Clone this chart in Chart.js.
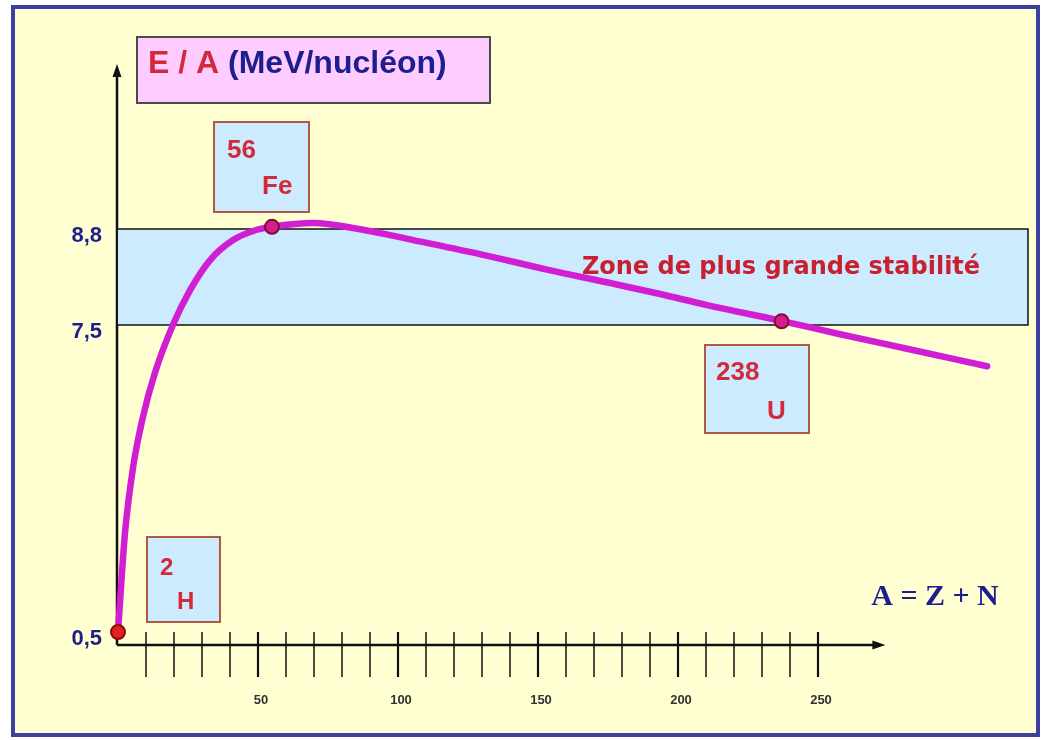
<!DOCTYPE html>
<html>
<head>
<meta charset="utf-8">
<title>E / A (MeV/nucléon)</title>
<script src="https://cdn.jsdelivr.net/npm/chart.js@4/dist/chart.umd.min.js"></script>
<style>
  html, body { margin: 0; padding: 0; background: #fff; }
  canvas { display: block; }
</style>
</head>
<body>
<canvas id="bindingChart" width="1046" height="740"></canvas>
<script>
// Binding energy per nucleon curve
const CURVE_A = [0, 2.5, 5.4, 8.9, 13.2, 19.6, 25.7, 32.9, 41.1, 49.6, 55, 69.6, 87.5, 105.4, 129.3, 153.2, 176.8, 193.6, 210.4, 236.4, 257.9, 281.8, 310.4];
const CURVE_E = [0.5, 2.76, 4.26, 5.40, 6.41, 7.5, 7.97, 8.38, 8.65, 8.79, 8.83, 8.88, 8.79, 8.65, 8.46, 8.25, 8.06, 7.92, 7.77, 7.56, 7.29, 6.96, 6.56];

// Marked nuclides
const NUC_A = [0, 55, 237];
const NUC_E = [0.5, 8.83, 7.55];
const NUC_MASS = ['2', '56', '238'];
const NUC_SYMBOL = ['H', 'Fe', 'U'];

// Stability band
const BAND_A = [0, 325];
const BAND_E = [7.5, 8.8];

// Axis ticks
const Y_TICKS = [0.5, 7.5, 8.8];
const X_LABELED = [50, 100, 150, 200, 250];

// The y axis of the drawing is not linear: piecewise map value -> fraction of height
const Y_BREAKS = [[0, 0], [0.5, 0.0225], [7.5, 0.5536], [8.8, 0.7197], [11, 1]];

const COLORS = {
  paper: '#FFFFD2',
  frame: '#3F3FA3',
  curve: '#D21ED2',
  band: '#CCEBFF',
  boxFill: '#CDEBFF',
  boxLine: '#B0574A',
  red: '#D22A3A',
  navy: '#1E1E8C',
};

function interp(v, pairs, from, to) {
  for (let i = 1; i < pairs.length; i++) {
    const a = pairs[i - 1], b = pairs[i];
    if (v <= b[from] || i === pairs.length - 1) {
      return a[to] + (v - a[from]) * (b[to] - a[to]) / (b[from] - a[from]);
    }
  }
  return 0;
}

class BrokenScale extends Chart.LinearScale {
  getPixelForValue(value) {
    return this.getPixelForDecimal(interp(value, Y_BREAKS, 0, 1));
  }
  getValueForPixel(pixel) {
    return interp(this.getDecimalForPixel(pixel), Y_BREAKS, 1, 0);
  }
}
BrokenScale.id = 'broken';
BrokenScale.defaults = Chart.LinearScale.defaults;
Chart.register(BrokenScale);

const xy = (xs, ys) => xs.map((x, i) => ({ x, y: ys[i] }));

function box(ctx, x, y, w, h, fill, line) {
  ctx.fillStyle = fill;
  ctx.fillRect(x, y, w, h);
  ctx.strokeStyle = line;
  ctx.lineWidth = 2;
  ctx.strokeRect(x, y, w, h);
}

const decor = {
  id: 'decor',
  beforeDraw(chart) {
    const ctx = chart.ctx;
    ctx.save();
    ctx.fillStyle = '#fff';
    ctx.fillRect(0, 0, chart.width, chart.height);
    ctx.fillStyle = COLORS.paper;
    ctx.fillRect(13, 7, 1025, 728);
    ctx.strokeStyle = COLORS.frame;
    ctx.lineWidth = 4;
    ctx.strokeRect(13, 7, 1025, 728);
    ctx.restore();
  },
  beforeDatasetsDraw(chart) {
    const ctx = chart.ctx;
    const xs = chart.scales.x, area = chart.chartArea;
    const x0 = xs.getPixelForValue(0) - 1, y0 = area.bottom;
    const xEnd = xs.getPixelForValue(273);
    ctx.save();
    ctx.strokeStyle = '#111';
    ctx.fillStyle = '#111';
    ctx.lineWidth = 2.5;
    // y axis with arrow
    ctx.beginPath();
    ctx.moveTo(x0, y0);
    ctx.lineTo(x0, area.top + 4);
    ctx.stroke();
    ctx.beginPath();
    ctx.moveTo(x0, area.top - 3);
    ctx.lineTo(x0 - 4.5, area.top + 10);
    ctx.lineTo(x0 + 4.5, area.top + 10);
    ctx.closePath();
    ctx.fill();
    // x axis with arrow
    ctx.beginPath();
    ctx.moveTo(x0, y0);
    ctx.lineTo(xEnd - 4, y0);
    ctx.stroke();
    ctx.beginPath();
    ctx.moveTo(xEnd + 3, y0);
    ctx.lineTo(xEnd - 10, y0 - 4.5);
    ctx.lineTo(xEnd - 10, y0 + 4.5);
    ctx.closePath();
    ctx.fill();
    // tick marks crossing the x axis
    xs.ticks.forEach(t => {
      if (t.value < 10 || t.value > 250) return;
      const px = xs.getPixelForValue(t.value);
      ctx.lineWidth = t.value % 50 === 0 ? 2.2 : 1.5;
      ctx.beginPath();
      ctx.moveTo(px, y0 - 13);
      ctx.lineTo(px, y0 + 32);
      ctx.stroke();
    });
    ctx.restore();
  },
  afterDatasetsDraw(chart) {
    const ctx = chart.ctx;
    ctx.save();
    ctx.textBaseline = 'middle';

    // axis title
    box(ctx, 137, 37, 353, 66, '#FFCCFF', '#4A4A4A');
    ctx.font = 'bold 32px "Liberation Sans", Arial, sans-serif';
    ctx.textAlign = 'left';
    ctx.fillStyle = COLORS.red;
    ctx.fillText('E / A', 148, 64);
    const w = ctx.measureText('E / A ').width;
    ctx.fillStyle = COLORS.navy;
    ctx.fillText('(MeV/nucléon)', 148 + w, 64);

    // nuclide boxes
    const boxes = [
      { x: 147, y: 537, w: 73, h: 85, mx: 160, my: 568, sx: 177, sy: 602, size: 24 },
      { x: 214, y: 122, w: 95, h: 90, mx: 227, my: 151, sx: 262, sy: 187, size: 26 },
      { x: 705, y: 345, w: 104, h: 88, mx: 716, my: 373, sx: 767, sy: 412, size: 26 },
    ];
    boxes.forEach((b, i) => {
      box(ctx, b.x, b.y, b.w, b.h, COLORS.boxFill, COLORS.boxLine);
      ctx.fillStyle = COLORS.red;
      ctx.font = 'bold ' + b.size + 'px "Liberation Sans", Arial, sans-serif';
      ctx.fillText(NUC_MASS[i], b.mx, b.my);
      ctx.fillText(NUC_SYMBOL[i], b.sx, b.sy);
    });

    // band caption
    ctx.fillStyle = '#C8202E';
    ctx.font = 'bold 24px "Comic Sans MS", "DejaVu Sans", sans-serif';
    ctx.textAlign = 'center';
    ctx.fillText('Zone de plus grande stabilité', 781, 268, 418);

    // x axis caption
    ctx.fillStyle = COLORS.navy;
    ctx.font = 'bold 30px "Liberation Serif", "Times New Roman", serif';
    ctx.fillText('A = Z + N', 935, 597, 136);
    ctx.restore();
  },
};

new Chart(document.getElementById('bindingChart'), {
  type: 'line',
  data: {
    datasets: [
      {
        label: 'nuclides',
        data: xy(NUC_A, NUC_E),
        showLine: false,
        pointRadius: 7,
        pointBorderWidth: 2,
        pointBackgroundColor: ['#E32020', '#D81B8C', '#D81B8C'],
        pointBorderColor: ['#8B0A0A', '#7A1030', '#7A1030'],
        clip: false,
        order: 0,
      },
      {
        label: 'E/A',
        data: xy(CURVE_A, CURVE_E),
        borderColor: COLORS.curve,
        borderWidth: 6.5,
        pointRadius: 0,
        cubicInterpolationMode: 'monotone',
        borderCapStyle: 'round',
        fill: false,
        clip: false,
        order: 1,
      },
      {
        label: 'zone',
        data: [
          { x: BAND_A[0], y: BAND_E[1] },
          { x: BAND_A[1], y: BAND_E[1] },
          { x: BAND_A[1], y: BAND_E[0] },
          { x: BAND_A[0], y: BAND_E[0] },
        ],
        borderColor: '#111',
        borderWidth: 1.5,
        backgroundColor: COLORS.band,
        pointRadius: 0,
        tension: 0,
        fill: 'shape',
        clip: 4,
        order: 2,
      },
    ],
  },
  options: {
    responsive: false,
    animation: false,
    events: [],
    layout: { padding: { top: 67, right: 18, left: 0, bottom: 0 } },
    plugins: {
      legend: { display: false },
      tooltip: { enabled: false },
    },
    scales: {
      x: {
        type: 'linear',
        min: 0,
        max: 325,
        afterFit: s => { s.height = 95; s.paddingLeft = 0; s.paddingRight = 0; },
        grid: { display: false },
        border: { display: false },
        ticks: {
          stepSize: 10,
          autoSkip: false,
          maxRotation: 0,
          padding: 40,
          labelOffset: 3,
          color: '#333',
          font: { family: '"Liberation Sans", Arial, sans-serif', size: 13, weight: 'bold' },
          callback: v => (X_LABELED.includes(v) ? String(v) : ''),
        },
      },
      y: {
        type: 'broken',
        min: 0,
        max: 11,
        afterFit: s => { s.width = 118; s.paddingTop = 0; s.paddingBottom = 0; },
        afterBuildTicks: s => { s.ticks = Y_TICKS.map(v => ({ value: v })); },
        grid: { display: false },
        border: { display: false },
        ticks: {
          padding: 8,
          labelOffset: 7,
          color: COLORS.navy,
          font: { family: '"Liberation Sans", Arial, sans-serif', size: 22, weight: 'bold' },
          callback: v => String(v).replace('.', ','),
        },
      },
    },
  },
  plugins: [decor],
});
</script>
</body>
</html>
